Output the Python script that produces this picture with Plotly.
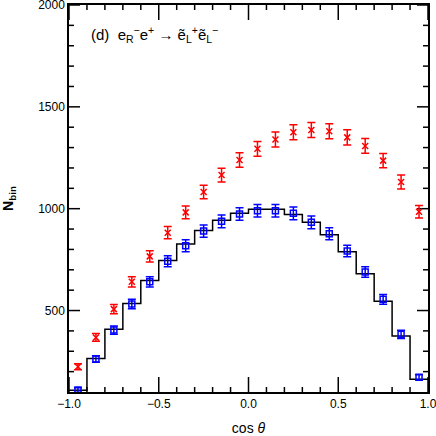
import plotly.graph_objects as go

# ── Données (20 bins de largeur 0.1 en cos θ) ─────────────────────────────────
BIN_EDGES = [-1.0, -0.9, -0.8, -0.7, -0.6, -0.5, -0.4, -0.3, -0.2, -0.1, 0.0,
             0.1, 0.2, 0.3, 0.4, 0.5, 0.6, 0.7, 0.8, 0.9, 1.0]
BIN_CENTERS = [-0.95, -0.85, -0.75, -0.65, -0.55, -0.45, -0.35, -0.25, -0.15, -0.05,
               0.05, 0.15, 0.25, 0.35, 0.45, 0.55, 0.65, 0.75, 0.85, 0.95]

# histogramme (ligne noire)
HIST_VALUES = [108, 265, 408, 535, 648, 745, 827, 893, 943, 977,
               997, 997, 972, 933, 872, 789, 681, 545, 375, 162]

# points rouges (x)
RED_VALUES = [224, 368, 507, 641, 766, 882, 982, 1082, 1165, 1239,
              1294, 1340, 1375, 1386, 1380, 1350, 1308, 1236, 1131, 985]
RED_ERRORS = [15, 19, 23, 25, 28, 30, 31, 33, 34, 35,
              36, 37, 37, 37, 37, 37, 36, 35, 34, 31]

# points bleus (carrés)
BLUE_VALUES = [110, 262, 404, 532, 641, 742, 818, 890, 938, 974,
               990, 990, 977, 933, 877, 792, 689, 555, 383, 172]
BLUE_ERRORS = [11, 16, 20, 23, 25, 27, 29, 30, 31, 31,
               31, 31, 31, 31, 30, 28, 26, 24, 20, 13]

X_TICKS = [-1.0, -0.5, 0.0, 0.5, 1.0]
Y_TICKS = [500, 1000, 1500, 2000]
X_MINOR = [i / 10 for i in range(-9, 10) if i % 5]
Y_MINOR = [v for v in range(200, 2000, 100) if v % 500]
X_RANGE = [-1.0, 1.0]
Y_RANGE = [100, 2000]

_FONT = "Liberation Sans, Arial, sans-serif"
_RED = "#ff0000"
_BLUE = "#0000ff"

# taille de la zone de tracé en pixels (pour des graduations de longueur fixe)
_W, _H = 436, 436
_MARGIN = dict(l=69, r=8, t=5, b=44)
_PX_X = (X_RANGE[1] - X_RANGE[0]) / (_W - _MARGIN["l"] - _MARGIN["r"])
_PX_Y = (Y_RANGE[1] - Y_RANGE[0]) / (_H - _MARGIN["t"] - _MARGIN["b"])

fig = go.Figure()

# ── Graduations intérieures sur les 4 côtés ───────────────────────────────────
tick_x, tick_y = [], []
for xv, ln in [(v, 15) for v in X_TICKS] + [(v, 5) for v in X_MINOR]:
    tick_x += [xv, xv, None, xv, xv, None]
    tick_y += [Y_RANGE[0], Y_RANGE[0] + ln * _PX_Y, None,
               Y_RANGE[1], Y_RANGE[1] - ln * _PX_Y, None]
for yv, ln in [(v, 11) for v in Y_TICKS] + [(v, 5) for v in Y_MINOR]:
    tick_x += [X_RANGE[0], X_RANGE[0] + ln * _PX_X, None,
               X_RANGE[1], X_RANGE[1] - ln * _PX_X, None]
    tick_y += [yv, yv, None, yv, yv, None]
fig.add_trace(go.Scatter(
    x=tick_x, y=tick_y, mode="lines",
    line=dict(color="black", width=1.5),
    showlegend=False, hoverinfo="skip", cliponaxis=False,
))

# ── Histogramme en escalier ───────────────────────────────────────────────────
fig.add_trace(go.Scatter(
    x=BIN_EDGES,
    y=HIST_VALUES + [HIST_VALUES[-1]],
    mode="lines",
    line=dict(color="black", width=1.5, shape="hv"),
    showlegend=False,
))

# ── Points rouges ─────────────────────────────────────────────────────────────
fig.add_trace(go.Scatter(
    x=BIN_CENTERS,
    y=RED_VALUES,
    mode="markers",
    marker=dict(symbol="x-thin-open", size=6, color=_RED,
                line=dict(color=_RED, width=1.5)),
    error_y=dict(type="data", array=RED_ERRORS, color=_RED,
                 thickness=1.5, width=4),
    showlegend=False,
))

# ── Points bleus ──────────────────────────────────────────────────────────────
fig.add_trace(go.Scatter(
    x=BIN_CENTERS,
    y=BLUE_VALUES,
    mode="markers",
    marker=dict(symbol="square-open", size=6, color=_BLUE,
                line=dict(color=_BLUE, width=1.5)),
    error_y=dict(type="data", array=BLUE_ERRORS, color=_BLUE,
                 thickness=1.5, width=4),
    showlegend=False,
))

fig.add_annotation(
    x=0.055, y=0.925, xref="paper", yref="paper",
    xanchor="left", yanchor="middle",
    text="(d)  e<sub>R</sub><sup>−</sup>e<sup>+</sup> → "
         "ẽ<sub>L</sub><sup>+</sup>ẽ<sub>L</sub><sup>−</sup>",
    showarrow=False,
    font=dict(size=15, color="black", family=_FONT),
)

axis_common = dict(
    showline=True, linecolor="black", linewidth=1.5, mirror=True,
    ticks="", showgrid=False, zeroline=False, automargin=False,
    ticklabeloverflow="allow",
    tickfont=dict(size=12, color="black", family=_FONT),
)

fig.update_layout(
    template="none",
    font=dict(family=_FONT, color="black"),
    xaxis=dict(
        **axis_common,
        range=X_RANGE, tickmode="array", tickvals=X_TICKS, tickformat=".1f",
        title=dict(text="cos <i>θ</i>", standoff=14,
                   font=dict(size=14, color="black", family=_FONT)),
    ),
    yaxis=dict(
        **axis_common,
        range=Y_RANGE, tickmode="array", tickvals=Y_TICKS,
        title=dict(text="<b>N<sub>bin</sub></b>", standoff=22,
                   font=dict(size=14, color="black", family=_FONT)),
    ),
    width=_W, height=_H,
    margin=_MARGIN,
    paper_bgcolor="white",
    plot_bgcolor="white",
    showlegend=False,
)

# la page a une marge de 8 px par défaut : on la retire
fig.write_html("out.html", config={"displayModeBar": False},
               post_script="document.body.style.margin='0';")
